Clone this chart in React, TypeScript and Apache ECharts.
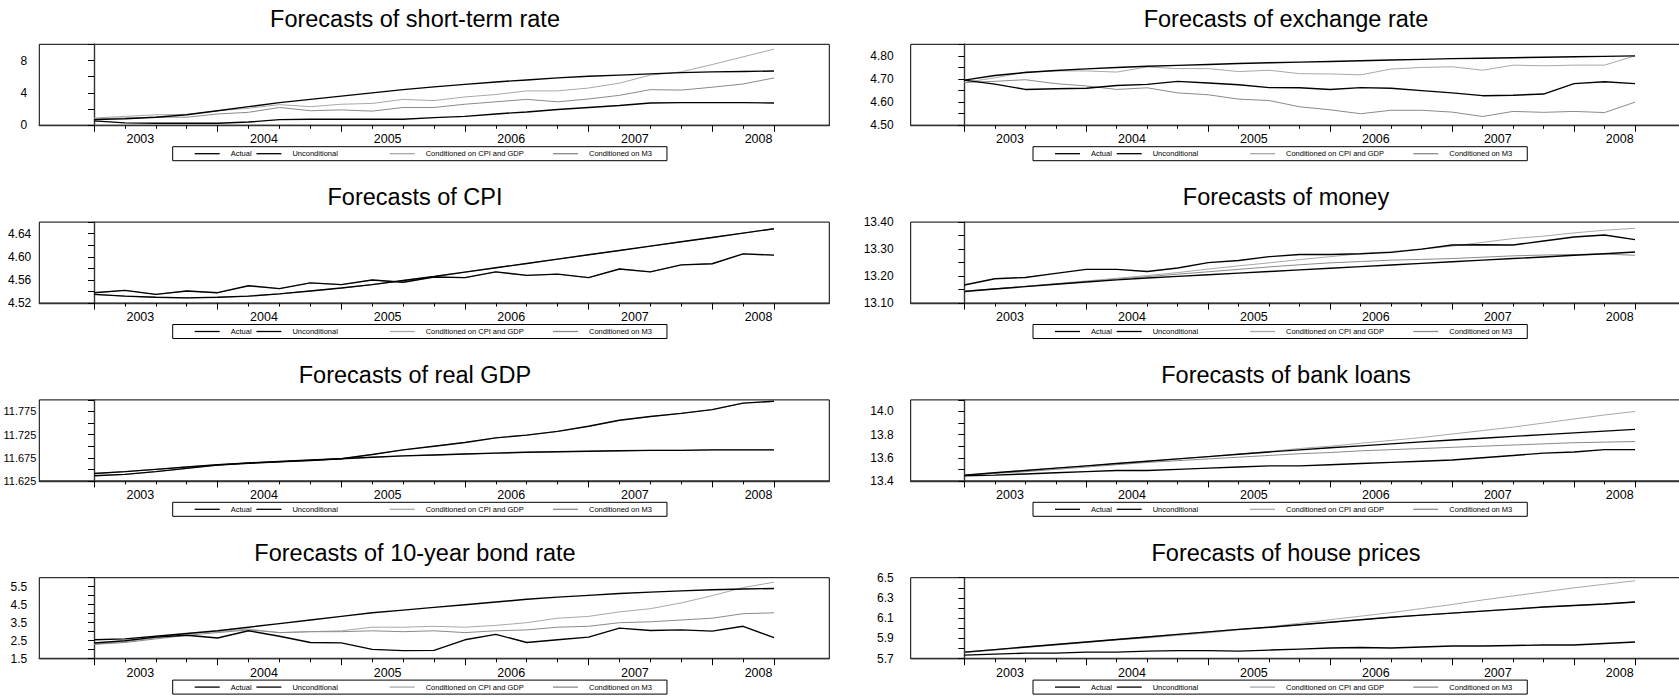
import React, { useEffect, useRef } from 'react';
import * as echarts from 'echarts';

// ---------------- DATA ----------------
const years = ['2003', '2004', '2005', '2006', '2007', '2008'];
const seriesNames = ['Actual', 'Unconditional', 'Conditioned on CPI and GDP', 'Conditioned on M3'];

// Short-term rate (2003Q1 - 2008Q3)
const shortActual = [0.55, 0.3, 0.25, 0.25, 0.25, 0.4, 0.7, 0.75, 0.75, 0.75, 0.75, 0.95, 1.1, 1.4, 1.65, 1.95, 2.2, 2.45, 2.75, 2.8, 2.8, 2.8, 2.75];
const shortUncond = [0.7, 0.8, 1.0, 1.3, 1.8, 2.3, 2.8, 3.2, 3.6, 4.0, 4.4, 4.75, 5.05, 5.35, 5.6, 5.85, 6.05, 6.2, 6.35, 6.5, 6.6, 6.65, 6.7];
const shortCpiGdp = [0.9, 1.1, 1.3, 1.35, 1.8, 2.1, 2.55, 2.3, 2.6, 2.7, 3.2, 3.05, 3.5, 3.8, 4.25, 4.25, 4.6, 5.2, 6.2, 6.6, 7.5, 8.45, 9.4];
const shortM3 = [0.8, 0.9, 1.0, 1.0, 1.4, 1.6, 2.2, 1.8, 1.9, 1.75, 2.2, 2.2, 2.6, 2.9, 3.2, 2.9, 3.25, 3.7, 4.4, 4.35, 4.7, 5.1, 5.85];
const shortYLabels = ['0', '4', '8'];

// Exchange rate
const fxActual = [4.695, 4.678, 4.655, 4.658, 4.66, 4.672, 4.677, 4.69, 4.683, 4.675, 4.663, 4.662, 4.655, 4.663, 4.66, 4.65, 4.64, 4.628, 4.63, 4.635, 4.68, 4.688, 4.68];
const fxUncond = [4.695, 4.715, 4.728, 4.737, 4.744, 4.75, 4.755, 4.759, 4.763, 4.767, 4.77, 4.773, 4.776, 4.779, 4.782, 4.785, 4.788, 4.79, 4.792, 4.794, 4.796, 4.798, 4.8];
const fxCpiGdp = [4.685, 4.705, 4.73, 4.735, 4.735, 4.73, 4.752, 4.745, 4.745, 4.732, 4.738, 4.723, 4.722, 4.718, 4.743, 4.75, 4.753, 4.738, 4.76, 4.757, 4.76, 4.76, 4.8];
const fxM3 = [4.685, 4.69, 4.697, 4.68, 4.67, 4.655, 4.662, 4.64, 4.632, 4.613, 4.607, 4.58, 4.567, 4.55, 4.565, 4.565, 4.557, 4.538, 4.56, 4.556, 4.56, 4.555, 4.6];
const fxYLabels = ['4.50', '4.60', '4.70', '4.80'];

// CPI
const cpiActual = [4.538, 4.542, 4.535, 4.541, 4.538, 4.55, 4.545, 4.555, 4.552, 4.56, 4.556, 4.565, 4.564, 4.574, 4.568, 4.57, 4.564, 4.579, 4.574, 4.586, 4.588, 4.605, 4.603];
const cpiUncond = [4.535, 4.532, 4.53, 4.529, 4.53, 4.532, 4.536, 4.541, 4.546, 4.552, 4.559, 4.566, 4.5735, 4.581, 4.5885, 4.596, 4.6035, 4.611, 4.6185, 4.626, 4.6335, 4.641, 4.6485];
const cpiCpiGdp = [4.538, 4.542, 4.535, 4.541, 4.538, 4.55, 4.545, 4.555, 4.552, 4.56, 4.556, 4.565, 4.564, 4.574, 4.568, 4.57, 4.564, 4.579, 4.574, 4.586, 4.588, 4.605, 4.603];
const cpiM3 = [4.535, 4.532, 4.53, 4.529, 4.53, 4.532, 4.536, 4.541, 4.546, 4.552, 4.559, 4.566, 4.5735, 4.581, 4.5885, 4.596, 4.6035, 4.611, 4.6185, 4.626, 4.6335, 4.641, 4.6485];
const cpiYLabels = ['4.52', '4.56', '4.60', '4.64'];

// Money
const moneyActual = [13.167, 13.19, 13.195, 13.21, 13.225, 13.225, 13.217, 13.23, 13.25, 13.258, 13.272, 13.28, 13.28, 13.283, 13.288, 13.3, 13.315, 13.316, 13.315, 13.33, 13.345, 13.352, 13.335];
const moneyUncond = [13.143, 13.152, 13.161, 13.17, 13.178, 13.186, 13.193, 13.199, 13.205, 13.211, 13.217, 13.223, 13.229, 13.235, 13.241, 13.247, 13.253, 13.259, 13.265, 13.271, 13.277, 13.283, 13.289];
const moneyCpiGdp = [13.145, 13.153, 13.162, 13.172, 13.182, 13.192, 13.202, 13.213, 13.226, 13.238, 13.249, 13.261, 13.272, 13.283, 13.291, 13.3, 13.311, 13.325, 13.339, 13.348, 13.36, 13.37, 13.377];
const moneyM3 = [13.144, 13.153, 13.162, 13.171, 13.18, 13.189, 13.198, 13.207, 13.216, 13.225, 13.234, 13.242, 13.249, 13.254, 13.259, 13.262, 13.265, 13.27, 13.275, 13.278, 13.28, 13.282, 13.277];
const moneyYLabels = ['13.10', '13.20', '13.30', '13.40'];

// Real GDP
const gdpActual = [11.636, 11.639, 11.645, 11.652, 11.659, 11.663, 11.666, 11.669, 11.673, 11.682, 11.692, 11.7, 11.708, 11.718, 11.724, 11.732, 11.743, 11.756, 11.764, 11.771, 11.779, 11.793, 11.797];
const gdpUncond = [11.641, 11.645, 11.65, 11.655, 11.66, 11.664, 11.667, 11.67, 11.673, 11.676, 11.679, 11.681, 11.683, 11.685, 11.687, 11.688, 11.689, 11.69, 11.691, 11.691, 11.692, 11.692, 11.692];
const gdpCpiGdp = [11.636, 11.639, 11.645, 11.652, 11.659, 11.663, 11.666, 11.669, 11.673, 11.682, 11.692, 11.7, 11.708, 11.718, 11.724, 11.732, 11.743, 11.756, 11.764, 11.771, 11.779, 11.793, 11.797];
const gdpM3 = [11.641, 11.645, 11.65, 11.655, 11.66, 11.664, 11.667, 11.67, 11.673, 11.676, 11.679, 11.681, 11.683, 11.685, 11.687, 11.688, 11.689, 11.69, 11.691, 11.691, 11.692, 11.692, 11.692];
const gdpYLabels = ['11.625', '11.675', '11.725', '11.775'];

// Bank loans
const loansActual = [13.445, 13.45, 13.46, 13.47, 13.48, 13.49, 13.49, 13.5, 13.51, 13.52, 13.53, 13.53, 13.54, 13.55, 13.56, 13.57, 13.58, 13.6, 13.62, 13.64, 13.65, 13.67, 13.67];
const loansUncond = [13.45, 13.47, 13.49, 13.51, 13.53, 13.55, 13.57, 13.59, 13.61, 13.63, 13.65, 13.668, 13.686, 13.703, 13.72, 13.737, 13.753, 13.769, 13.785, 13.8, 13.815, 13.83, 13.845];
const loansCpiGdp = [13.45, 13.47, 13.49, 13.51, 13.53, 13.55, 13.57, 13.59, 13.61, 13.632, 13.655, 13.68, 13.7, 13.725, 13.75, 13.775, 13.805, 13.835, 13.865, 13.9, 13.935, 13.97, 14.0];
const loansM3 = [13.45, 13.465, 13.48, 13.5, 13.52, 13.54, 13.56, 13.575, 13.59, 13.605, 13.62, 13.635, 13.645, 13.66, 13.67, 13.68, 13.69, 13.7, 13.71, 13.72, 13.73, 13.735, 13.74];
const loansYLabels = ['13.4', '13.6', '13.8', '14.0'];

// 10-year bond rate
const bondActual = [2.37, 2.5, 2.7, 2.8, 2.65, 3.05, 2.75, 2.4, 2.38, 2.02, 1.95, 1.96, 2.55, 2.85, 2.4, 2.55, 2.7, 3.2, 3.07, 3.1, 3.03, 3.3, 2.67];
const bondUncond = [2.55, 2.6, 2.75, 2.9, 3.05, 3.25, 3.45, 3.65, 3.85, 4.05, 4.2, 4.35, 4.5, 4.65, 4.8, 4.92, 5.02, 5.12, 5.2, 5.27, 5.33, 5.37, 5.4];
const bondCpiGdp = [2.3, 2.45, 2.65, 2.9, 3.0, 3.15, 2.95, 3.0, 3.05, 3.25, 3.25, 3.3, 3.25, 3.35, 3.5, 3.75, 3.85, 4.1, 4.28, 4.6, 5.0, 5.45, 5.75];
const bondM3 = [2.3, 2.4, 2.6, 2.8, 2.95, 3.1, 2.95, 3.0, 3.0, 3.05, 3.0, 3.05, 2.95, 3.05, 3.1, 3.25, 3.3, 3.5, 3.55, 3.65, 3.75, 4.0, 4.05];
const bondYLabels = ['1.5', '2.5', '3.5', '4.5', '5.5'];

// House prices
const houseActual = [5.735, 5.745, 5.755, 5.755, 5.765, 5.765, 5.775, 5.78, 5.78, 5.775, 5.785, 5.795, 5.805, 5.81, 5.805, 5.815, 5.825, 5.825, 5.83, 5.835, 5.835, 5.85, 5.865];
const houseUncond = [5.765, 5.79, 5.815, 5.84, 5.865, 5.89, 5.915, 5.94, 5.965, 5.99, 6.01, 6.035, 6.06, 6.085, 6.11, 6.13, 6.15, 6.17, 6.19, 6.21, 6.225, 6.24, 6.26];
const houseCpiGdp = [5.76, 5.785, 5.81, 5.835, 5.86, 5.885, 5.905, 5.93, 5.955, 5.985, 6.015, 6.05, 6.085, 6.12, 6.155, 6.195, 6.235, 6.28, 6.32, 6.36, 6.4, 6.435, 6.47];
const houseM3 = [5.765, 5.79, 5.815, 5.84, 5.865, 5.89, 5.915, 5.94, 5.965, 5.99, 6.01, 6.035, 6.06, 6.085, 6.11, 6.13, 6.15, 6.17, 6.19, 6.21, 6.225, 6.24, 6.26];
const houseYLabels = ['5.7', '5.9', '6.1', '6.3', '6.5'];

// ---------------- PANELS ----------------
const panels = [
  { title: 'Forecasts of short-term rate', col: 0, row: 0, s: [shortActual, shortUncond, shortCpiGdp, shortM3], min: 0, max: 10, step: 2, labels: shortYLabels },
  { title: 'Forecasts of exchange rate', col: 1, row: 0, s: [fxActual, fxUncond, fxCpiGdp, fxM3], min: 4.5, max: 4.85, step: 0.05, labels: fxYLabels },
  { title: 'Forecasts of CPI', col: 0, row: 1, s: [cpiActual, cpiUncond, cpiCpiGdp, cpiM3], min: 4.52, max: 4.66, step: 0.02, labels: cpiYLabels },
  { title: 'Forecasts of money', col: 1, row: 1, s: [moneyActual, moneyUncond, moneyCpiGdp, moneyM3], min: 13.1, max: 13.4, step: 0.05, labels: moneyYLabels },
  { title: 'Forecasts of real GDP', col: 0, row: 2, s: [gdpActual, gdpUncond, gdpCpiGdp, gdpM3], min: 11.625, max: 11.8, step: 0.025, labels: gdpYLabels },
  { title: 'Forecasts of bank loans', col: 1, row: 2, s: [loansActual, loansUncond, loansCpiGdp, loansM3], min: 13.4, max: 14.1, step: 0.1, labels: loansYLabels },
  { title: 'Forecasts of 10-year bond rate', col: 0, row: 3, s: [bondActual, bondUncond, bondCpiGdp, bondM3], min: 1.5, max: 6.0, step: 0.5, labels: bondYLabels },
  { title: 'Forecasts of house prices', col: 1, row: 3, s: [houseActual, houseUncond, houseCpiGdp, houseM3], min: 5.7, max: 6.5, step: 0.1, labels: houseYLabels },
];

// ---------------- LAYOUT / STYLE ----------------
const FONT = '"Liberation Sans", Arial, Helvetica, sans-serif';
const ROW_PITCH = 177.8;
const PLOT_TOP = 44.3;
const PLOT_H = 81;
const TITLE_CY = 18.9;
const TITLE_SIZE = 23.5;
const LEGEND_TOP = 146.7;
const NQ = 22; // last quarter index
const COLS = [
  { frameL: 39.3, frameR: 829.3, x0: 94, xN: 774, titleX: 415, legendL: 172.7 },
  { frameL: 910.7, frameR: 1689, x0: 964.3, xN: 1635, titleX: 1286, legendL: 1033 },
];
const seriesColors = ['#000000', '#000000', '#a8a8a8', '#8a8a8a'];
const seriesWidths = [1.4, 1.4, 1, 1];
const seriesZ = [4, 4, 2, 3];
const legendTextWidths = [25.7, 97.3, 127.3, 60];

function labelMargin(p: { col: number; labels: string[] }) {
  const maxLen = Math.max(...p.labels.map((s) => s.length));
  if (p.col === 1) return 17;
  return maxLen >= 6 ? 3 : maxLen >= 4 ? 8 : 12;
}

function buildOption() {
  const grid: any[] = [];
  const xAxis: any[] = [];
  const yAxis: any[] = [];
  const series: any[] = [];
  const title: any[] = [];
  const legend: any[] = [];

  panels.forEach((p) => {
    const c = COLS[p.col];
    const top = PLOT_TOP + p.row * ROW_PITCH;
    const q = (c.xN - c.x0) / NQ;
    const dec = (p.labels[0].split('.')[1] || '').length;
    const longLabels = Math.max(...p.labels.map((s) => s.length)) >= 6;

    // frame grid
    const gF = grid.length;
    grid.push({ left: c.frameL, top, width: c.frameR - c.frameL, height: PLOT_H, show: true, borderColor: '#000', borderWidth: 1, backgroundColor: 'transparent', containLabel: false, outerBoundsMode: 'none' });
    const xF = xAxis.length;
    xAxis.push({
      type: 'value', gridIndex: gF,
      min: -(c.x0 - c.frameL) / q, max: NQ + (c.frameR - c.xN) / q,
      axisLine: { show: true, lineStyle: { color: '#333', width: 1.4 } },
      axisTick: { show: false }, axisLabel: { show: false }, splitLine: { show: false },
    });
    const yF = yAxis.length;
    yAxis.push({
      type: 'value', gridIndex: gF, min: p.min, max: p.max, interval: p.step,
      axisLine: { show: true, lineStyle: { color: '#333', width: 1.4 } },
      axisTick: { show: true, length: 6, lineStyle: { color: '#000', width: 1 } },
      axisLabel: {
        show: true, margin: labelMargin(p), color: '#000', fontSize: longLabels ? 11 : 12, fontFamily: FONT,
        formatter: (v: number) => { const s = v.toFixed(dec); return p.labels.includes(s) ? s : ''; },
      },
      splitLine: { show: false },
    });

    // quarterly ticks grid
    const gD = grid.length;
    grid.push({ left: c.x0, top, width: c.xN - c.x0, height: PLOT_H, show: false, containLabel: false, outerBoundsMode: 'none' });
    xAxis.push({
      type: 'value', gridIndex: gD, min: 0, max: NQ, interval: 4,
      axisLine: { show: false },
      axisTick: { show: true, length: 6.5, lineStyle: { color: '#000', width: 1 } },
      minorTick: { show: true, splitNumber: 4, length: 3.5, lineStyle: { color: '#000', width: 1 } },
      axisLabel: { show: false }, splitLine: { show: false }, minorSplitLine: { show: false },
    });
    yAxis.push({ type: 'value', gridIndex: gD, show: false, min: 0, max: 1 });

    // year labels grid: each year band spans four quarters, centred on its observations
    const gY = grid.length;
    grid.push({ left: c.x0 - q / 2, top, width: q * 4 * years.length, height: PLOT_H, show: false, containLabel: false, outerBoundsMode: 'none' });
    xAxis.push({
      type: 'category', gridIndex: gY, data: years, boundaryGap: true,
      axisLine: { show: false }, axisTick: { show: false },
      axisLabel: { show: true, interval: 0, margin: 7.5, color: '#000', fontSize: 12.5, fontFamily: FONT },
      splitLine: { show: false },
    });
    yAxis.push({ type: 'value', gridIndex: gY, show: false, min: 0, max: 1 });

    // series
    p.s.forEach((vals, k) => {
      series.push({
        type: 'line', name: seriesNames[k], xAxisIndex: xF, yAxisIndex: yF,
        data: vals.map((v, i) => [i, v]),
        symbol: 'none', smooth: false, z: seriesZ[k],
        lineStyle: { color: seriesColors[k], width: seriesWidths[k] },
        itemStyle: { color: seriesColors[k] },
        emphasis: { disabled: true },
      });
    });

    title.push({
      text: p.title, left: c.titleX, top: TITLE_CY + p.row * ROW_PITCH - TITLE_SIZE / 2, textAlign: 'center', padding: 0,
      textStyle: { fontSize: TITLE_SIZE, fontWeight: 'normal', color: '#000', fontFamily: FONT },
    });

    legend.push({
      left: c.legendL, top: LEGEND_TOP + p.row * ROW_PITCH, orient: 'horizontal',
      itemGap: 0, itemWidth: 25, itemHeight: 1.3, padding: [2.5, 15, 2.5, 22],
      borderColor: '#000', borderWidth: 1, backgroundColor: '#fff',
      itemStyle: { borderWidth: 0 },
      textStyle: { fontSize: 7.5, color: '#000', fontFamily: FONT, padding: [0, 0, 0, 6], lineHeight: 9 },
      data: seriesNames.map((n, k) => ({
        name: n, icon: 'rect',
        itemStyle: { color: seriesColors[k], borderWidth: 0 },
        textStyle: { width: legendTextWidths[k] },
      })),
    });
  });

  return {
    animation: false,
    backgroundColor: '#fff',
    textStyle: { fontFamily: FONT },
    title, legend, grid, xAxis, yAxis, series,
  };
}

export default function App() {
  const ref = useRef<HTMLDivElement>(null);
  useEffect(() => {
    if (!ref.current) return;
    const chart = echarts.init(ref.current, undefined, { renderer: 'svg' });
    chart.setOption(buildOption() as any);
    return () => chart.dispose();
  }, []);
  return <div ref={ref} style={{ position: 'fixed', left: 0, top: 0, width: 1679, height: 699, background: '#fff' }} />;
}
